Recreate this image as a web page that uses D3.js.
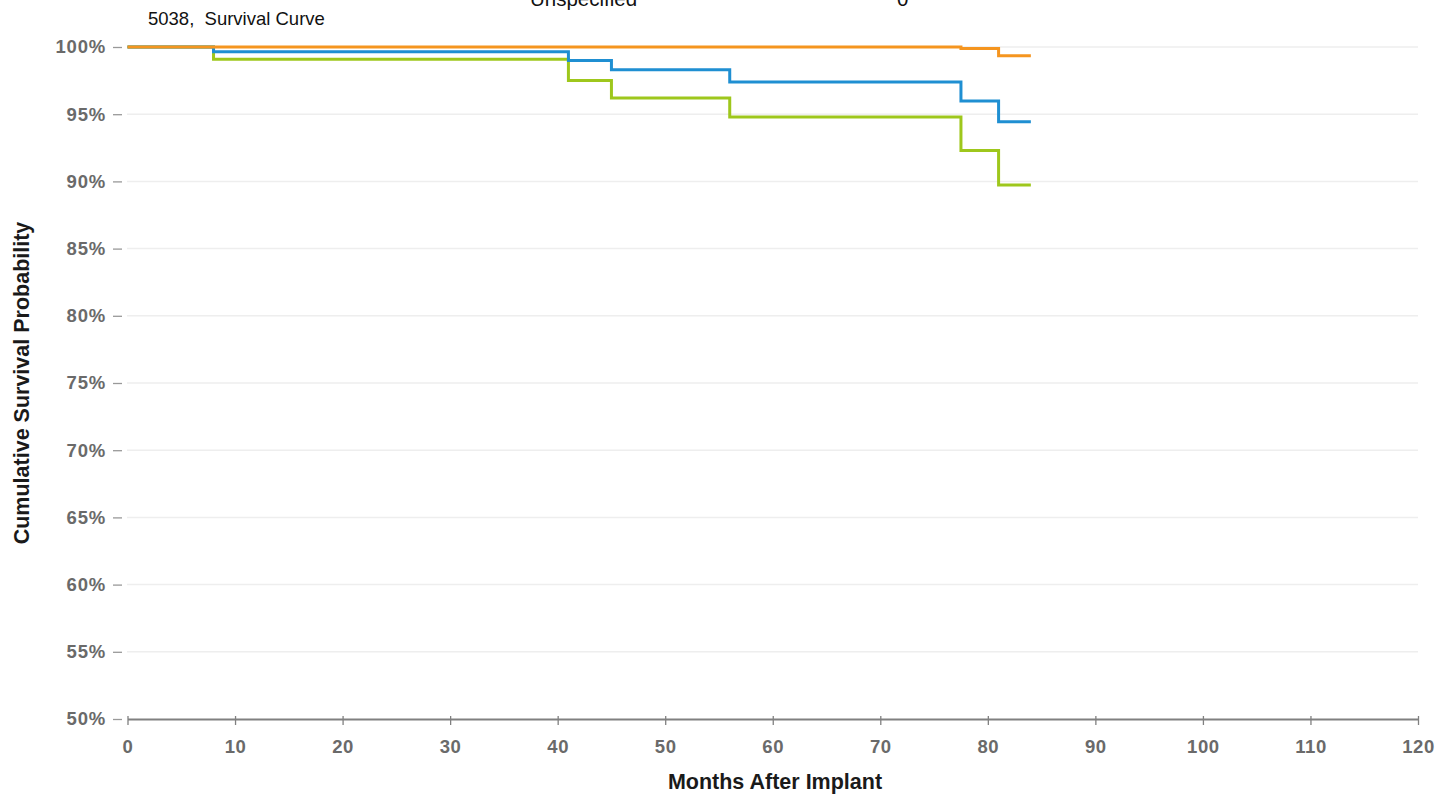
<!DOCTYPE html>
<html>
<head>
<meta charset="utf-8">
<script src="https://cdn.jsdelivr.net/npm/d3@7"></script>
<style>
  html, body { margin: 0; padding: 0; background: #fff; }
  svg { display: block; font-family: "Liberation Sans", Arial, sans-serif; }
</style>
</head>
<body>
<svg id="chart" width="1453" height="794"></svg>
<script>
// ---- data ----
const xTicks = [0, 10, 20, 30, 40, 50, 60, 70, 80, 90, 100, 110, 120];
const yTicks = [50, 55, 60, 65, 70, 75, 80, 85, 90, 95, 100];
const stepTimes = [0, 8, 41, 45, 56, 77.5, 81, 84];
const orangeValues = [100, 100, 100, 100, 100, 99.88, 99.35, 99.35];
const blueValues   = [100, 99.65, 99.0, 98.3, 97.4, 95.98, 94.44, 94.44];
const greenValues  = [100, 99.08, 97.5, 96.2, 94.8, 92.3, 89.73, 89.73];
const seriesNames = ["orange", "blue", "green"];
const seriesColors = ["#f5951f", "#1f8fd2", "#9ec71c"];
const titleText = "5038,\u00a0 Survival Curve";
const headerLabels = ["Unspecified", "0"];

// ---- layout ----
const svg = d3.select("#chart");
const x = d3.scaleLinear().domain([0, 120]).range([127.5, 1418]);
const y = d3.scaleLinear().domain([50, 100]).range([719, 47]);
const FONT = "'Liberation Sans', Arial, sans-serif";

// header texts (clipped at top, as in the reference)
svg.append("text").attr("x", 148).attr("y", 25).attr("font-size", 18.5).attr("fill", "#111").text(titleText);
svg.append("text").attr("x", 530).attr("y", 6).attr("font-size", 20.5).attr("fill", "#111").text(headerLabels[0]);
svg.append("text").attr("x", 897).attr("y", 6).attr("font-size", 20.5).attr("fill", "#111").text(headerLabels[1]);

// gridlines
svg.append("g").selectAll("line").data(yTicks.filter(d => d > 50)).join("line")
  .attr("x1", 127).attr("x2", 1418)
  .attr("y1", d => y(d)).attr("y2", d => y(d))
  .attr("stroke", "#eeeeee").attr("stroke-width", 1.5);

// y axis (dash ticks, no domain line)
const yAxis = svg.append("g").attr("transform", "translate(122,0)")
  .call(d3.axisLeft(y).tickValues(yTicks).tickFormat(d => d + "%").tickSize(9).tickPadding(7));
yAxis.select(".domain").remove();
yAxis.selectAll(".tick line").attr("stroke", "#999").attr("stroke-width", 1.3);
yAxis.selectAll(".tick text").attr("font-size", 18.5).attr("font-weight", "bold").attr("fill", "#6a6a6a")
  .attr("font-family", FONT).attr("letter-spacing", 0.8);

// x axis
const xAxis = svg.append("g").attr("transform", "translate(0,719)")
  .call(d3.axisBottom(x).tickValues(xTicks).tickSize(6).tickPadding(15).tickSizeOuter(0));
xAxis.select(".domain").attr("stroke", "#808080").attr("stroke-width", 1.8);
xAxis.selectAll(".tick line").attr("stroke", "#808080").attr("stroke-width", 1.3).attr("y1", -3);
xAxis.selectAll(".tick text").attr("font-size", 18.5).attr("font-weight", "bold").attr("fill", "#6a6a6a")
  .attr("font-family", FONT).attr("letter-spacing", 0.6);

// axis titles
svg.append("text").attr("x", 775).attr("y", 789).attr("text-anchor", "middle")
  .attr("font-size", 21.5).attr("font-weight", "bold").attr("fill", "#1a1a1a").text("Months After Implant");
svg.append("text").attr("transform", "translate(29,383) rotate(-90)").attr("text-anchor", "middle")
  .attr("font-size", 21.5).attr("font-weight", "bold").attr("fill", "#1a1a1a").text("Cumulative Survival Probability");

// curves
const allValues = [orangeValues, blueValues, greenValues];
const line = d3.line().x(d => x(d[0])).y(d => y(d[1])).curve(d3.curveStepAfter);
// draw green, blue, then orange on top
[2, 1, 0].forEach(i => {
  const pts = stepTimes.map((t, j) => [t, allValues[i][j]]);
  svg.append("path").datum(pts).attr("d", line)
    .attr("fill", "none").attr("stroke", seriesColors[i]).attr("stroke-width", 3)
    .attr("class", "series-" + seriesNames[i]);
});
</script>
</body>
</html>
